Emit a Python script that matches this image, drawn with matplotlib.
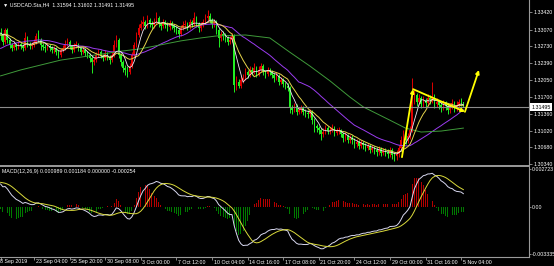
import pandas as pd
import matplotlib
matplotlib.use("Agg")
import matplotlib.pyplot as plt
from matplotlib.lines import Line2D
from matplotlib.transforms import blended_transform_factory

plt.rcParams['font.family'] = ['Liberation Sans', 'DejaVu Sans']

# USDCAD.Sta H4, one bar per 4 hours, 18 Sep 2019 .. 5 Nov 2019
first_open = 1.3300
closes = [
    1.3296, 1.3282, 1.3306, 1.3286, 1.3276, 1.3270, 1.3276, 1.3272, 1.3278, 1.3274,
    1.3270, 1.3290, 1.3278, 1.3274, 1.3276, 1.3282, 1.3294, 1.3286, 1.3276, 1.3272,
    1.3270, 1.3274, 1.3270, 1.3266, 1.3268, 1.3261, 1.3255, 1.3266, 1.3270, 1.3278,
    1.3282, 1.3274, 1.3266, 1.3274, 1.3278, 1.3270, 1.3261, 1.3266, 1.3259, 1.3255,
    1.3249, 1.3241, 1.3245, 1.3255, 1.3261, 1.3253, 1.3249, 1.3257, 1.3251, 1.3245,
    1.3255, 1.3276, 1.3286, 1.3255, 1.3241, 1.3229, 1.3225, 1.3221, 1.3233, 1.3255,
    1.3276, 1.3296, 1.3310, 1.3318, 1.3322, 1.3314, 1.3326, 1.3318, 1.3316, 1.3322,
    1.3330, 1.3318, 1.3314, 1.3322, 1.3316, 1.3312, 1.3320, 1.3314, 1.3310, 1.3306,
    1.3298, 1.3310, 1.3316, 1.3318, 1.3312, 1.3322, 1.3318, 1.3330, 1.3318, 1.3310,
    1.3316, 1.3322, 1.3330, 1.3335, 1.3326, 1.3318, 1.3322, 1.3306, 1.3290, 1.3298,
    1.3294, 1.3290, 1.3282, 1.3286, 1.3294, 1.3194, 1.3201, 1.3192, 1.3205, 1.3209,
    1.3221, 1.3215, 1.3225, 1.3221, 1.3229, 1.3217, 1.3225, 1.3233, 1.3221, 1.3217,
    1.3225, 1.3221, 1.3215, 1.3209, 1.3213, 1.3201, 1.3205, 1.3196, 1.3192, 1.3188,
    1.3148, 1.3144, 1.3152, 1.3140, 1.3144, 1.3148, 1.3140, 1.3138, 1.3136, 1.3140,
    1.3123, 1.3111, 1.3107, 1.3103, 1.3095, 1.3099, 1.3107, 1.3101, 1.3103, 1.3107,
    1.3097, 1.3101, 1.3103, 1.3095, 1.3087, 1.3091, 1.3083, 1.3087, 1.3083, 1.3075,
    1.3079, 1.3071, 1.3077, 1.3073, 1.3067, 1.3071, 1.3063, 1.3067, 1.3063, 1.3058,
    1.3065, 1.3056, 1.3060, 1.3058, 1.3054, 1.3063, 1.3052, 1.3050, 1.3054, 1.3067,
    1.3083, 1.3095, 1.3083, 1.3091, 1.3103, 1.3164, 1.3174, 1.3160, 1.3168, 1.3156,
    1.3164, 1.3158, 1.3168, 1.3164, 1.3172, 1.3156, 1.3160, 1.3154, 1.3148, 1.3156,
    1.3152, 1.3144, 1.3152, 1.3158, 1.3148, 1.3154, 1.3160, 1.31594, 1.31495,
]
highs = [
    1.3310, 1.3300, 1.3310, 1.3310, 1.3290, 1.3280, 1.3282, 1.3280, 1.3284, 1.3282,
    1.3278, 1.3302, 1.3294, 1.3282, 1.3282, 1.3288, 1.3300, 1.3306, 1.3290, 1.3280,
    1.3278, 1.3280, 1.3278, 1.3274, 1.3274, 1.3272, 1.3266, 1.3270, 1.3276, 1.3286,
    1.3290, 1.3286, 1.3276, 1.3280, 1.3284, 1.3280, 1.3272, 1.3274, 1.3270, 1.3263,
    1.3259, 1.3253, 1.3251, 1.3261, 1.3268, 1.3266, 1.3257, 1.3266, 1.3261, 1.3255,
    1.3261, 1.3286, 1.3296, 1.3290, 1.3259, 1.3245, 1.3235, 1.3233, 1.3239, 1.3261,
    1.3282, 1.3302, 1.3318, 1.3326, 1.3335, 1.3326, 1.3337, 1.3330, 1.3324, 1.3330,
    1.3343, 1.3335, 1.3322, 1.3328, 1.3326, 1.3322, 1.3326, 1.3324, 1.3318, 1.3314,
    1.3310, 1.3316, 1.3324, 1.3326, 1.3322, 1.3328, 1.3326, 1.3343, 1.3335, 1.3322,
    1.3322, 1.3328, 1.3339, 1.3347, 1.3341, 1.3330, 1.3328, 1.3326, 1.3310, 1.3304,
    1.3304, 1.3300, 1.3294, 1.3294, 1.3300, 1.3298, 1.3213, 1.3207, 1.3213, 1.3217,
    1.3229, 1.3225, 1.3233, 1.3231, 1.3239, 1.3233, 1.3233, 1.3239, 1.3237, 1.3225,
    1.3231, 1.3229, 1.3225, 1.3219, 1.3221, 1.3217, 1.3211, 1.3209, 1.3201, 1.3199,
    1.3192, 1.3154, 1.3158, 1.3156, 1.3150, 1.3154, 1.3152, 1.3146, 1.3144, 1.3146,
    1.3144, 1.3127, 1.3115, 1.3111, 1.3107, 1.3107, 1.3113, 1.3111, 1.3109, 1.3115,
    1.3111, 1.3107, 1.3109, 1.3105, 1.3099, 1.3099, 1.3095, 1.3093, 1.3093, 1.3087,
    1.3085, 1.3083, 1.3083, 1.3081, 1.3077, 1.3077, 1.3075, 1.3073, 1.3071, 1.3069,
    1.3071, 1.3069, 1.3067, 1.3067, 1.3065, 1.3069, 1.3067, 1.3058, 1.3063, 1.3073,
    1.3091, 1.3103, 1.3099, 1.3097, 1.3111, 1.3209, 1.3184, 1.3178, 1.3176, 1.3172,
    1.3172, 1.3168, 1.3176, 1.3174, 1.3201, 1.3176, 1.3168, 1.3164, 1.3160, 1.3164,
    1.3162, 1.3156, 1.3158, 1.3166, 1.3162, 1.3162, 1.3166, 1.3168, 1.31602,
]
lows = [
    1.3286, 1.3276, 1.3278, 1.3280, 1.3270, 1.3263, 1.3266, 1.3266, 1.3268, 1.3268,
    1.3263, 1.3266, 1.3272, 1.3268, 1.3268, 1.3272, 1.3278, 1.3282, 1.3266, 1.3266,
    1.3261, 1.3266, 1.3263, 1.3259, 1.3259, 1.3255, 1.3249, 1.3251, 1.3261, 1.3266,
    1.3274, 1.3268, 1.3259, 1.3261, 1.3270, 1.3263, 1.3255, 1.3257, 1.3253, 1.3249,
    1.3241, 1.3219, 1.3235, 1.3241, 1.3251, 1.3249, 1.3243, 1.3245, 1.3245, 1.3237,
    1.3241, 1.3251, 1.3272, 1.3249, 1.3233, 1.3221, 1.3215, 1.3211, 1.3217, 1.3229,
    1.3251, 1.3272, 1.3292, 1.3306, 1.3312, 1.3308, 1.3310, 1.3312, 1.3308, 1.3310,
    1.3318, 1.3312, 1.3306, 1.3310, 1.3310, 1.3304, 1.3306, 1.3308, 1.3302, 1.3298,
    1.3290, 1.3294, 1.3306, 1.3310, 1.3306, 1.3308, 1.3312, 1.3314, 1.3312, 1.3302,
    1.3304, 1.3312, 1.3318, 1.3324, 1.3320, 1.3310, 1.3312, 1.3298, 1.3272, 1.3284,
    1.3286, 1.3282, 1.3276, 1.3278, 1.3282, 1.3180, 1.3184, 1.3188, 1.3188, 1.3199,
    1.3205, 1.3209, 1.3211, 1.3215, 1.3217, 1.3211, 1.3213, 1.3221, 1.3215, 1.3209,
    1.3213, 1.3215, 1.3209, 1.3201, 1.3205, 1.3194, 1.3196, 1.3190, 1.3186, 1.3182,
    1.3138, 1.3136, 1.3140, 1.3134, 1.3136, 1.3138, 1.3134, 1.3130, 1.3127, 1.3130,
    1.3115, 1.3099, 1.3099, 1.3095, 1.3083, 1.3089, 1.3095, 1.3095, 1.3095, 1.3099,
    1.3091, 1.3093, 1.3095, 1.3089, 1.3079, 1.3081, 1.3077, 1.3077, 1.3075, 1.3067,
    1.3069, 1.3065, 1.3067, 1.3065, 1.3060, 1.3063, 1.3056, 1.3058, 1.3054, 1.3050,
    1.3052, 1.3050, 1.3052, 1.3050, 1.3046, 1.3048, 1.3044, 1.3040, 1.3042, 1.3048,
    1.3063, 1.3077, 1.3075, 1.3077, 1.3085, 1.3099, 1.3156, 1.3152, 1.3154, 1.3148,
    1.3150, 1.3150, 1.3152, 1.3156, 1.3158, 1.3148, 1.3150, 1.3146, 1.3140, 1.3144,
    1.3144, 1.3136, 1.3138, 1.3146, 1.3140, 1.3142, 1.3148, 1.3152, 1.31491,
]
# closes before the first visible bar (estimated), only feed the indicators
history = [
    1.3205, 1.3198, 1.3210, 1.3215, 1.3208, 1.3222, 1.3230, 1.3226, 1.3238, 1.3245,
    1.3240, 1.3236, 1.3250, 1.3262, 1.3255, 1.3248, 1.3258, 1.3270, 1.3266, 1.3275,
    1.3262, 1.3270, 1.3281, 1.3290, 1.3284, 1.3278, 1.3288, 1.3296, 1.3301, 1.3292,
    1.3300, 1.3306, 1.3298, 1.3300,
]
# slow moving average
slow_ma_idx = [0, 9, 18, 27, 36, 45, 54, 63, 72, 81, 90, 97, 110, 121, 130, 139,
               148, 157, 163, 175, 182, 189, 198, 208]
slow_ma = [1.3213, 1.3225, 1.3235, 1.3245, 1.3251, 1.3257, 1.3263, 1.3268, 1.3276,
           1.3284, 1.3290, 1.3294, 1.3296, 1.3290, 1.3261, 1.3233, 1.3203, 1.3170,
           1.3150, 1.3123, 1.3107, 1.3099, 1.3101, 1.3107]

date_idx = [0, 15, 31, 47, 63, 79, 95, 111, 127, 143, 159, 175, 191, 207]
date_labels = ["18 Sep 2019", "23 Sep 04:00", "25 Sep 20:00", "30 Sep 08:00",
               "3 Oct 00:00", "7 Oct 12:00", "10 Oct 04:00", "14 Oct 16:00",
               "17 Oct 08:00", "21 Oct 20:00", "24 Oct 12:00", "29 Oct 00:00",
               "31 Oct 16:00", "5 Nov 04:00"]
price_ticks = [1.33420, 1.33070, 1.32730, 1.32390, 1.32050, 1.31700,
               1.31360, 1.31020, 1.30680, 1.30340]
macd_ticks = [0.002723, 0.0, -0.003335]
macd_tick_labels = ["0.002723", "0.00", "-0.003335"]
last_price = 1.31495

# hand drawn arrows on the chart: bar index and price of each corner
arrow_idx = [180.4, 185.4, 208.7, 215.0]
arrow_price = [1.3048, 1.3186, 1.3140, 1.3225]

# ---- indicators
n = len(closes)
allc = pd.Series(history + closes)
sma5 = allc.rolling(5, min_periods=1).mean().iloc[-n:].values
sma10 = allc.rolling(10, min_periods=1).mean().iloc[-n:].values
sma30 = allc.rolling(30, min_periods=1).mean().iloc[-n:].values
ema12 = allc.ewm(span=12, adjust=False).mean()
ema26 = allc.ewm(span=26, adjust=False).mean()
macd_full = ema12 - ema26
signal_full = macd_full.rolling(9, min_periods=1).mean()
macd = macd_full.iloc[-n:].values
signal = signal_full.iloc[-n:].values
# the terminal's histogram buffer runs about 1.3x the macd-signal gap
hist = (macd - signal) * 1.3

opens = [first_open] + closes[:-1]
idx = list(range(n))

W, H = 554, 266
fig = plt.figure(figsize=(W / 100, H / 100), dpi=100, facecolor='black')
axw = 529 / W
ax = fig.add_axes([0, 1 - 165 / H, axw, 165 / H], facecolor='black')
axm = fig.add_axes([0, 1 - 257 / H, axw, 90 / H], facecolor='black')

up_col, dn_col = '#e00000', '#22ee22'
cols = [up_col if c >= o else dn_col for o, c in zip(opens, closes)]
ax.vlines(idx, lows, highs, colors=cols, lw=0.7)
bottoms = [min(o, c) for o, c in zip(opens, closes)]
heights = [max(abs(c - o), 0.00005) for o, c in zip(opens, closes)]
ax.bar(idx, heights, bottom=bottoms, width=0.7, color=cols, lw=0)

ax.plot(idx, sma30, color='#9b3cf0', lw=0.7)
ax.plot(slow_ma_idx, slow_ma, color='#3f9a3a', lw=0.7)
ax.plot(idx, sma10, color='#e6d44c', lw=0.7)
ax.plot(idx, sma5, color='#f2e6f2', lw=0.6)

ax.axhline(last_price, color='#8c8c8c', lw=0.8)

for k in range(len(arrow_idx) - 1):
    ax.annotate('', xy=(arrow_idx[k + 1], arrow_price[k + 1]),
                xytext=(arrow_idx[k], arrow_price[k]),
                arrowprops=dict(arrowstyle='-|>', color='#ffff00', lw=1.3,
                                mutation_scale=5, shrinkA=0, shrinkB=0))

xlim = (-0.27, 237.5)
ax.set_xlim(*xlim)
ax.set_ylim(1.30321, 1.33670)

# ---- MACD pane
hcols = ['#b40000' if v >= 0 else '#007a00' for v in hist]
axm.bar(idx, hist, width=0.4, color=hcols, lw=0)
axm.plot(idx, macd, color='#d8d8f0', lw=0.7)
axm.plot(idx, signal, color='#dada3c', lw=0.7)
axm.set_xlim(*xlim)
axm.set_ylim(-0.003583, 0.002866)

gray = '#9a9a9a'
for a in (ax, axm):
    for s in ('top', 'left'):
        a.spines[s].set_visible(False)
    a.spines['right'].set_color(gray)
    a.spines['right'].set_linewidth(0.8)
    a.yaxis.tick_right()
    a.tick_params(axis='y', colors=gray, length=2, width=0.6, pad=1.5,
                  labelsize=3.8, labelcolor='white')
axm.tick_params(axis='y', length=1.5, pad=0.8)
ax.spines['bottom'].set_visible(False)
axm.spines['bottom'].set_color(gray)
axm.spines['bottom'].set_linewidth(0.8)

ax.set_yticks(price_ticks)
ax.set_yticklabels([f"{p:.5f}" for p in price_ticks])
ax.set_xticks([])
axm.set_yticks(macd_ticks)
axm.set_yticklabels(macd_tick_labels)
axm.set_xticks(date_idx)
axm.set_xticklabels([])
axm.tick_params(axis='x', colors=gray, length=2, width=0.6)

tr = blended_transform_factory(axm.transData, fig.transFigure)
for i, lab in zip(date_idx, date_labels):
    x = -1.6 if i == 0 else i + 0.7
    axm.text(x, 1 - 262 / H, lab, transform=tr, color='white', fontsize=3.8,
             ha='left', va='center', clip_on=False)

fig.add_artist(Line2D([0, axw], [1 - 166 / H] * 2, color=gray, lw=1.4))

trp = blended_transform_factory(ax.transAxes, ax.transData)
ax.text(1.004, last_price, f"{last_price:.5f}", transform=trp, color='black',
        fontsize=3.8, ha='left', va='center', clip_on=False,
        bbox=dict(boxstyle='square,pad=0.25', fc='white', ec='none'))

fig.text(3 / W, 1 - 5 / H, "\u25bc USDCAD.Sta,H4  1.31594 1.31602 1.31491 1.31495",
         color='white', fontsize=3.8, ha='left', va='center')
fig.text(2 / W, 1 - 172 / H, "MACD(12,26,9) 0.000989 0.001184 0.000000 -0.000254",
         color='white', fontsize=3.8, ha='left', va='center')

fig.savefig('out.png', dpi=100, facecolor='black')
